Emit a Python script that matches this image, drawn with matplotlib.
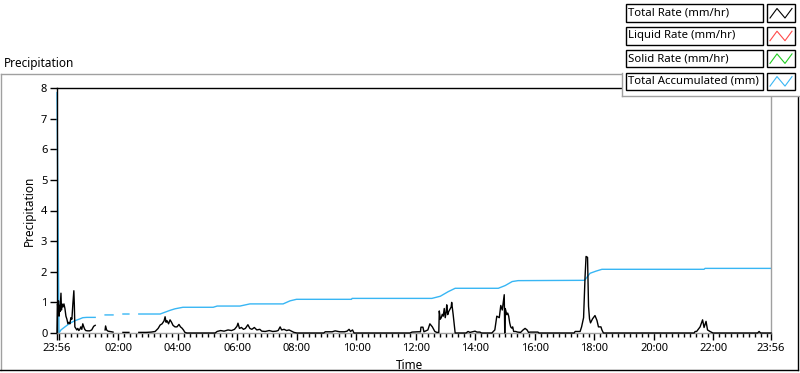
import numpy as np
import matplotlib
matplotlib.use('Agg')
from matplotlib import pyplot as plt
from matplotlib.lines import Line2D
from matplotlib.patches import Rectangle

nan = np.nan

# minutes after 23:56 (start of the 24 h window)
rate_minutes = [0, 1, 2, 3, 4, 5, 6, 8, 9, 10, 12, 14, 16, 18, 20, 22, 24, 26, 28, 30,
                32, 34, 35, 36, 38, 40, 42, 44, 46, 48, 50, 52, 54, 56, 58, 62, 66, 70, 74, 77,
                80,
                97, 98, 100, 103, 107, 110, 113,
                116,
                133, 139, 145,
                150,
                165, 180, 190, 198, 204, 208, 212, 216, 218, 220, 222, 225, 228, 231, 234, 238,
                242, 246, 249, 252, 255, 258, 262, 319, 323, 330, 337, 345, 352, 358, 363, 365,
                368, 372, 376, 380, 385, 389, 393, 398, 403, 409, 413, 420, 428, 435, 442, 446,
                450, 453, 458, 463, 468, 474, 478, 484, 538, 541, 555, 561, 570, 580, 585, 589,
                592, 596, 599, 712, 716, 728, 733, 734, 738, 740, 748, 752, 757, 762, 766, 770,
                771, 773, 775, 777, 779, 781, 783, 785, 786, 788, 790, 793, 795, 796, 798, 799,
                801, 803, 825, 829, 833, 838, 843, 847, 853, 856, 877, 883, 887, 892, 895, 898,
                900, 902, 903, 904, 905, 907, 909, 911, 913, 915, 917, 919, 921, 925, 929, 935,
                940, 944, 948, 951, 954, 970, 972, 1043, 1045, 1055, 1058, 1062, 1065, 1067,
                1070, 1072, 1074, 1076, 1080, 1085, 1089, 1092, 1097, 1099, 1102, 1285, 1287,
                1290, 1297, 1302, 1305, 1309, 1312, 1317, 1323, 1413, 1416, 1419, 1440]
total_rate = [0.0, 0.95, 0.75, 1.05, 0.55, 0.9, 0.7, 1.3, 0.75, 0.95, 0.85, 0.95, 0.8, 0.55,
              0.45, 0.3, 0.35, 0.3, 0.5, 0.45, 0.95, 1.38, 0.9, 0.2, 0.15, 0.1, 0.15, 0.08,
              0.12, 0.2, 0.12, 0.3, 0.2, 0.12, 0.08, 0.07, 0.07, 0.1, 0.22, 0.25,
              nan,
              0.1, 0.23, 0.1, 0.06, 0.05, 0.04, 0.03,
              nan,
              0.02, 0.02, 0.02,
              nan,
              0.02, 0.02, 0.03, 0.05, 0.15, 0.26, 0.3, 0.4, 0.53, 0.35, 0.4, 0.3, 0.43, 0.35,
              0.25, 0.2, 0.2, 0.28, 0.2, 0.16, 0.1, 0.02, 0.0, 0.0, 0.05, 0.08, 0.06, 0.1,
              0.08, 0.12, 0.22, 0.32, 0.15, 0.18, 0.12, 0.15, 0.27, 0.15, 0.12, 0.18, 0.1,
              0.12, 0.06, 0.05, 0.08, 0.05, 0.06, 0.08, 0.2, 0.1, 0.12, 0.08, 0.1, 0.05, 0.02,
              0.0, 0.0, 0.04, 0.04, 0.07, 0.04, 0.04, 0.06, 0.12, 0.05, 0.1, 0.0, 0.0, 0.03,
              0.04, 0.04, 0.19, 0.19, 0.04, 0.1, 0.3, 0.2, 0.05, 0.02, 0.02, 0.72, 0.45, 0.5,
              0.61, 0.55, 0.8, 0.5, 0.7, 0.92, 0.6, 0.7, 0.79, 0.85, 1.0, 0.75, 0.6, 0.3, 0.0,
              0.0, 0.05, 0.02, 0.04, 0.06, 0.03, 0.03, 0.0, 0.0, 0.1, 0.55, 0.5, 0.9, 0.75,
              1.0, 1.25, 0.0, 0.8, 0.74, 0.6, 0.65, 0.55, 0.33, 0.2, 0.16, 0.2, 0.05, 0.05,
              0.03, 0.02, 0.1, 0.15, 0.1, 0.02, 0.03, 0.03, 0.0, 0.0, 0.05, 0.05, 0.2, 0.5,
              1.84, 2.5, 2.47, 0.87, 0.46, 0.33, 0.46, 0.57, 0.41, 0.2, 0.2, 0.1, 0.0, 0.0,
              0.05, 0.05, 0.2, 0.43, 0.18, 0.38, 0.1, 0.05, 0.0, 0.0, 0.05, 0.0, 0.0]

# liquid / solid rates carry no visible trace in the reference
liquid_minutes = []
liquid_rate = []
solid_minutes = []
solid_rate = []

accum_minutes = [0, 2, 4, 8, 16, 26, 36, 46, 52, 60, 77,
                 80,
                 97, 113,
                 116,
                 133, 145,
                 150,
                 165, 208, 218, 228, 238, 254, 315, 323, 369, 389, 456, 470, 483, 594, 595,
                 756, 773, 789, 803, 890, 904, 918, 930, 1064, 1075, 1087, 1099, 1305, 1307,
                 1440]
total_accum = [7.85, 3.9, 0.0, 0.1, 0.2, 0.32, 0.4, 0.46, 0.5, 0.51, 0.51,
               nan,
               0.59, 0.59,
               nan,
               0.62, 0.62,
               nan,
               0.62, 0.62, 0.68, 0.74, 0.79, 0.84, 0.84, 0.88, 0.88, 0.95, 0.95, 1.05, 1.1,
               1.1, 1.13, 1.13, 1.2, 1.35, 1.46, 1.46, 1.55, 1.68, 1.71, 1.72, 1.95, 2.02,
               2.08, 2.08, 2.11, 2.11]

tick_minutes = [0, 4, 124, 244, 364, 484, 604, 724, 844, 964, 1084, 1204, 1324, 1440]
tick_labels = ['23:56', '', '02:00', '04:00', '06:00', '08:00', '10:00', '12:00',
               '14:00', '16:00', '18:00', '20:00', '22:00', '23:56']

legend_names = ['Total Rate (mm/hr)', 'Liquid Rate (mm/hr)', 'Solid Rate (mm/hr)',
                'Total Accumulated (mm)']
colors = ['black', '#ff4a4a', '#22cc22', '#38b6f4']

W, H = 800, 373


def fx(x):
    return x / W


def fy(y):
    return 1 - y / H


def plot_precipitation():
    plt.rcParams['font.family'] = ['Noto Sans', 'DejaVu Sans']
    fig = plt.figure(figsize=(8, 3.73), dpi=100)
    ax = fig.add_axes([fx(57), fy(333), (771 - 57) / W, (333 - 88) / H])

    ax.plot(accum_minutes, total_accum, color=colors[3], lw=1, clip_on=False, zorder=2)
    ax.plot(solid_minutes, solid_rate, color=colors[2], lw=1)
    ax.plot(liquid_minutes, liquid_rate, color=colors[1], lw=1)
    ax.plot(rate_minutes, total_rate, color=colors[0], lw=1, clip_on=False, zorder=3)

    ax.set_xlim(0, 1440)
    ax.set_ylim(0, 8)
    ax.set_xticks(tick_minutes)
    ax.set_xticklabels(tick_labels)
    minor = [m for m in range(4, 1440, 12) if m not in tick_minutes]
    ax.set_xticks(minor, minor=True)
    ax.set_yticks(range(0, 9))
    ax.tick_params(axis='both', which='major', length=5, width=1, labelsize=8, pad=2)
    ax.tick_params(axis='x', which='minor', length=3, width=1)

    for side in ['top', 'left']:
        ax.spines[side].set_color('black')
    for side in ['bottom', 'right']:
        ax.spines[side].set_color('#a0a0a0')
    for s in ax.spines.values():
        s.set_linewidth(1)

    ax.set_xlabel('Time', fontsize=8.5)
    ax.xaxis.set_label_coords(0.493, -0.105)
    ax.set_ylabel('Precipitation', fontsize=8.5)
    ax.yaxis.set_label_coords(-0.029, 0.5)

    fig.text(fx(4), fy(63), 'Precipitation', fontsize=8.5, va='center', ha='left')

    # outer frame
    gray = '#a0a0a0'
    frame = [((0.5, 73.5), (622, 73.5), gray),
             ((0.5, 73.5), (0.5, 370), gray),
             ((0, 369.5), (798, 369.5), 'black'),
             ((797.5, 95), (797.5, 370), 'black')]
    for (x0, y0), (x1, y1), c in frame:
        fig.add_artist(Line2D([fx(x0), fx(x1)], [fy(y0), fy(y1)], color=c, lw=1,
                              transform=fig.transFigure))

    # legend panel, drawn above the plot
    fig.add_artist(Rectangle((fx(622), fy(95.5)), (800 - 622) / W, 95.5 / H,
                             fc='white', ec='none', transform=fig.transFigure, zorder=5))
    for (x0, y0), (x1, y1) in [((622, 73), (622, 95.5)), ((622, 95.5), (800, 95.5))]:
        fig.add_artist(Line2D([fx(x0), fx(x1)], [fy(y0), fy(y1)], color=gray, lw=1,
                              transform=fig.transFigure, zorder=6))
    for i, (name, c) in enumerate(zip(legend_names, colors)):
        top = 4.5 + 22.7 * i
        bot = top + 17.5
        fig.add_artist(Rectangle((fx(625.5), fy(bot)), (762.5 - 625.5) / W, 17.5 / H,
                                 fill=False, ec='black', lw=1, transform=fig.transFigure,
                                 zorder=6))
        fig.add_artist(Rectangle((fx(767), fy(bot)), 28 / W, 17.5 / H,
                                 fill=False, ec='black', lw=1, transform=fig.transFigure,
                                 zorder=6))
        fig.text(fx(628.5), fy((top + bot) / 2), name, fontsize=8.2, va='center', ha='left',
                 zorder=7)
        zx = [770, 777, 785, 792]
        zy = [bot - 4, top + 4, bot - 4, top + 4]
        fig.add_artist(Line2D([fx(v) for v in zx], [fy(v) for v in zy], color=c, lw=0.8,
                              transform=fig.transFigure, zorder=7))

    fig.savefig('out.png', dpi=100)


def execute():
    plot_precipitation()


if __name__ == "__main__":
    execute()
